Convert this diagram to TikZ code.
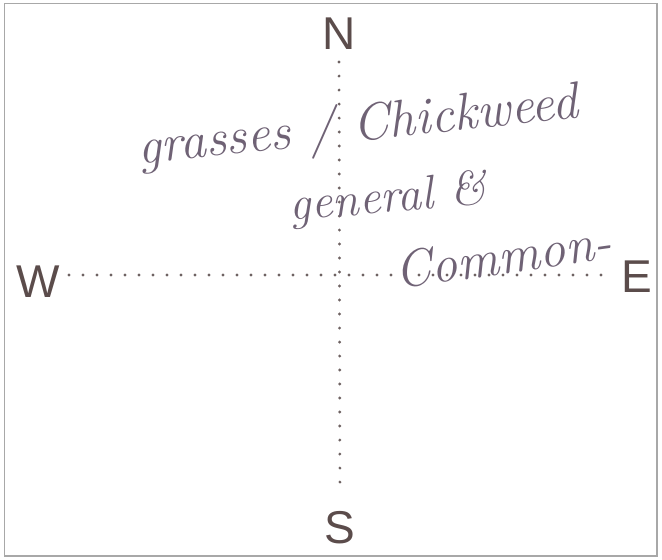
\documentclass[tikz,border=0pt]{standalone}
\usepackage{fontspec}
\newfontfamily\compassfont{Liberation Sans}
\usetikzlibrary{positioning}
\definecolor{inkbrown}{HTML}{5B4C4B}
\definecolor{inkpen}{HTML}{6F6275}
\definecolor{inkdot}{HTML}{6E6262}
\definecolor{framegray}{HTML}{A8A8A8}
\tikzset{heading/.style={font=\compassfont\fontsize{46}{46}\selectfont,text=inkbrown,inner sep=0pt},axis/.style={inkdot,line width=3.2pt,line cap=round,dash pattern=on 0pt off 14pt},note/.style={font=\itshape\fontsize{52}{52}\selectfont,text=inkpen,inner sep=0pt},frame/.style={framegray,line width=1.3pt}}

\begin{document}
\begin{tikzpicture}[x=1pt,y=-1pt]
\useasboundingbox (0,0) rectangle (662,560);
\draw[frame] (4.5,3.5) rectangle (657,556);
\node[heading] (N) at (339,34) {N};
\node[heading] (S) at (340,528) {S};
\node[heading] (W) at (38,282) {W};
\node[heading] (E) at (637,277) {E};
\draw[axis,shorten <=12pt,shorten >=26pt] (N) -- (S);
\draw[axis,shorten <=9pt,shorten >=10pt] ([yshift=7pt]W.east) -- ([yshift=2pt]E.west);
\node[note,rotate=6] (grass) at (358,128) {grasses / Chickweed};
\node[note,rotate=5,font=\itshape\fontsize{48}{48}\selectfont] (general) at (388,200) {general \&};
\node[note,rotate=8] (common) at (503,256) {Common-};
\end{tikzpicture}
\end{document}
